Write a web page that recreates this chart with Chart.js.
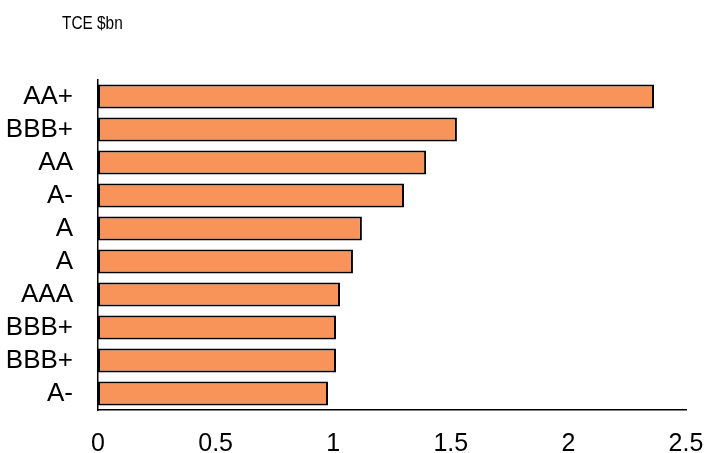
<!DOCTYPE html>
<html>
<head>
<meta charset="utf-8">
<script src="https://cdn.jsdelivr.net/npm/chart.js@4"></script>
<style>
  html, body { margin: 0; padding: 0; background: #fff; }
</style>
</head>
<body>
<canvas id="chartTce" width="705" height="453"></canvas>
<script>
// ratings (one per counterparty, top to bottom) and TCE in $bn
const ratings = ['AA+', 'BBB+', 'AA', 'A-', 'A', 'A', 'AAA', 'BBB+', 'BBB+', 'A-'];
const tceValues = [2.364, 1.526, 1.395, 1.301, 1.122, 1.084, 1.029, 1.012, 1.012, 0.978];
const xTicks = [0, 0.5, 1, 1.5, 2, 2.5];
const unitLabel = 'TCE $bn';

const fontFamily = '"Liberation Sans", Arial, sans-serif';

// little plugin for the unit label above the plot (font is a narrow one in the original)
const unitText = {
  id: 'unitText',
  afterDraw(chart) {
    const ctx = chart.ctx;
    ctx.save();
    ctx.fillStyle = '#000';
    ctx.font = '19px ' + fontFamily;
    ctx.textBaseline = 'alphabetic';
    ctx.textAlign = 'left';
    ctx.translate(62, 29);
    ctx.scale(0.81, 1);
    ctx.fillText(unitLabel, 0, 0);
    ctx.restore();
  },
};

const cv = document.getElementById('chartTce');

new Chart(cv, {
  type: 'bar',
  plugins: [unitText],
  data: {
    labels: ratings,
    datasets: [
      {
        data: tceValues,
        backgroundColor: '#f8945a',
        borderColor: '#000',
        borderWidth: 2,
        borderSkipped: false,
        categoryPercentage: 1,
        barPercentage: 0.72,
      },
    ],
  },
  options: {
    indexAxis: 'y',
    responsive: false,
    animation: false,
    layout: {
      padding: { top: 80, right: 19, left: 0, bottom: 0 },
    },
    plugins: {
      legend: { display: false },
      tooltip: { enabled: false },
    },
    scales: {
      x: {
        min: 0,
        max: 2.5,
        afterBuildTicks: (scale) => {
          scale.ticks = xTicks.map((v) => ({ value: v }));
        },
        afterFit: (scale) => {
          scale.height = 43;
          scale.paddingLeft = 0;
          scale.paddingRight = 0;
        },
        grid: { display: false, drawTicks: false },
        border: { display: true, color: '#000', width: 1.5 },
        ticks: {
          color: '#000',
          padding: 19,
          maxRotation: 0,
          font: { family: fontFamily, size: 25 },
          callback: (v) => v.toString(),
        },
      },
      y: {
        afterFit: (scale) => {
          scale.width = 98;
          scale.paddingTop = 0;
          scale.paddingBottom = 0;
        },
        grid: { display: false, drawTicks: false },
        border: { display: true, color: '#000', width: 1.5 },
        ticks: {
          color: '#000',
          padding: 25,
          autoSkip: false,
          font: { family: fontFamily, size: 26 },
        },
      },
    },
  },
});
</script>
</body>
</html>
